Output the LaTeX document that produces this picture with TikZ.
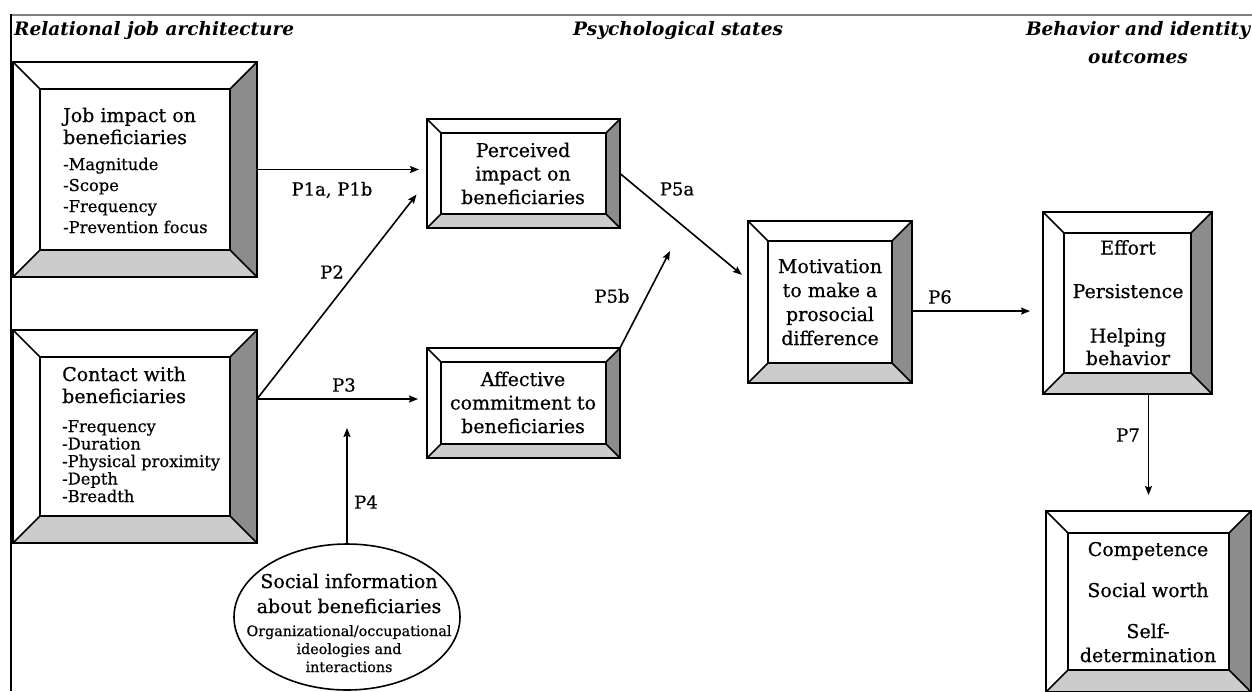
\documentclass[tikz,border=0pt]{standalone}
\usepackage{fontspec}
\setmainfont{DejaVu Serif}[UprightFeatures={FakeBold=0.6}]
\usetikzlibrary{shapes.geometric,fit,calc,arrows.meta}
\newcommand\bevbox[6]{%
 \coordinate (#1-a) at (#2,#3);
 \coordinate (#1-b) at (#4,#5);
 \node[fit=(#1-a)(#1-b), inner sep=0pt, outer sep=0pt] (#1) {};
 \coordinate (#1-inw) at ($(#1.north west)+(#6,#6)$);
 \coordinate (#1-ine) at ($(#1.north east)+(-#6,#6)$);
 \coordinate (#1-ise) at ($(#1.south east)+(-#6,-#6)$);
 \coordinate (#1-isw) at ($(#1.south west)+(#6,-#6)$);
 \fill[white] (#1.north west) rectangle (#1.south east);
 \fill[shadeR] (#1.north east) -- (#1.south east) -- (#1-ise) -- (#1-ine) -- cycle;
 \fill[shadeB] (#1.south west) -- (#1.south east) -- (#1-ise) -- (#1-isw) -- cycle;
 \draw[boxline] (#1.north west) rectangle (#1.south east);
 \draw[boxline] (#1-inw) rectangle (#1-ise);
 \draw[boxline] (#1.north west) -- (#1-inw) (#1.north east) -- (#1-ine)
   (#1.south east) -- (#1-ise) (#1.south west) -- (#1-isw);
}
\tikzset{
 shadeR/.style={fill=black!45},
 shadeB/.style={fill=black!20},
 boxline/.style={line width=1.7pt, line join=miter},
 arr/.style={line width=1.6pt, -{Stealth[length=9pt,width=7pt,inset=1.5pt]}},
 hdr/.style={inner sep=0pt, font=\fontsize{18.5}{28}\selectfont\bfseries\itshape, align=center},
 ttl/.style={inner sep=0pt, align=left, font=\fontsize{19}{22}\selectfont},
 itm/.style={inner sep=0pt, align=left, font=\fontsize{16.3}{21}\selectfont},
 ctext/.style={inner sep=0pt, align=center, font=\fontsize{19}{23.5}\selectfont},
 small/.style={inner sep=0pt, align=center, font=\fontsize{14.3}{18}\selectfont},
 lbl/.style={inner sep=0pt, font=\fontsize{18}{20}\selectfont},
}
\begin{document}
\begin{tikzpicture}[x=1pt,y=-1pt]
\useasboundingbox (0,0) rectangle (1252,691);
% frame
\draw[black!50, line width=2pt] (11,15) -- (1252,15);
\draw[line width=1.5pt] (11,14) -- (11,691);
% headers
\node[hdr, anchor=base west] (h1) at (14,35) {Relational job architecture};
\node[hdr, anchor=base] (h2) at (678,35) {Psychological states};
\node[hdr, anchor=base] (h3) at (1138,63) {Behavior and identity\\outcomes};
% boxes
\bevbox{jobimp}{13}{62}{257}{277}{27}
\bevbox{contact}{13}{330}{257}{543}{27}
\bevbox{perc}{427}{119}{620}{228}{14}
\bevbox{aff}{427}{348}{620}{458}{14}
\bevbox{mot}{748}{221}{912}{383}{20}
\bevbox{eff}{1043}{212}{1212}{394}{21}
\bevbox{comp}{1046}{511}{1251}{692}{22}
\node[ellipse, draw, line width=1.6pt, fill=white, minimum width=226pt, minimum height=146pt] (social) at (347,617) {};
% texts (anchor base = baseline of the last line)
\node[ttl, anchor=base west] (t1) at (63,144) {Job impact on\\beneficiaries};
\node[itm, anchor=base west] (i1) at (63,233) {-Magnitude\\-Scope\\-Frequency\\-Prevention focus};
\node[ttl, anchor=base west] (t2) at (62,403) {Contact with\\beneficiaries};
\node[itm, anchor=base west, font=\fontsize{16.3}{17.5}\selectfont] (i2) at (62,502) {-Frequency\\-Duration\\-Physical proximity\\-Depth\\-Breadth};
\node[ctext, anchor=base] (t3) at (523,204) {Perceived\\impact on\\beneficiaries};
\node[ctext, anchor=base] (t4) at (523,433) {Affective\\commitment to\\beneficiaries};
\node[ctext, anchor=base, font=\fontsize{19}{24}\selectfont] (t5) at (830,345) {Motivation\\to make a\\prosocial\\difference};
\node[ctext, anchor=base, font=\fontsize{19}{22.5}\selectfont] (t6) at (1128,365) {Effort\\[21pt]Persistence\\[22pt]Helping\\behavior};
\node[ctext, anchor=base, font=\fontsize{19}{24}\selectfont] (t7) at (1148,662) {Competence\\[17pt]Social worth\\[17pt]Self-\\determination};
\node[ctext, anchor=base, font=\fontsize{19}{25}\selectfont] (t8) at (349,613) {Social information\\about beneficiaries};
\node[small, anchor=base] (t9) at (349,672) {Organizational/occupational\\ideologies and\\interactions};
% connectors
\coordinate (cstart) at ($(contact.north east)!0.324!(contact.south east)$);
\coordinate (p2end) at ($(perc.north west)!0.57!(perc.south west)$);
\coordinate (p5aend) at ($(mot.north west)!0.364!(mot.south west)$);
\coordinate (p5bend) at (670,251);
\coordinate (p6start) at ($(mot.north east)!0.556!(mot.south east)$);
\coordinate (p4end) at (social.north |- cstart);
\draw[arr, shorten >=8pt] (jobimp.east) -- (jobimp.east -| perc.west);
\draw[arr, shorten >=17pt] (cstart) -- (p2end);
\draw[arr, shorten >=9pt] (cstart) -- (cstart -| aff.west);
\draw[arr, shorten >=29pt] (social.north) -- (p4end);
\draw[arr, shorten >=8pt] (perc.east) -- (p5aend);
\draw[arr] (aff.north east) -- (p5bend);
\draw[arr, shorten >=13pt] (p6start) -- (p6start -| eff.west);
\draw[arr, shorten >=16pt] (eff.south -| comp.north) -- (comp.north);
% labels
\node[lbl] (l1) at (332,190) {P1a, P1b};
\node[lbl] (l2) at (332,272) {P2};
\node[lbl] (l3) at (344,385) {P3};
\node[lbl] (l4) at (366,502) {P4};
\node[lbl] (l5a) at (677,189) {P5a};
\node[lbl] (l5b) at (612,296) {P5b};
\node[lbl] (l6) at (940,297) {P6};
\node[lbl] (l7) at (1128,435) {P7};
\end{tikzpicture}
\end{document}
